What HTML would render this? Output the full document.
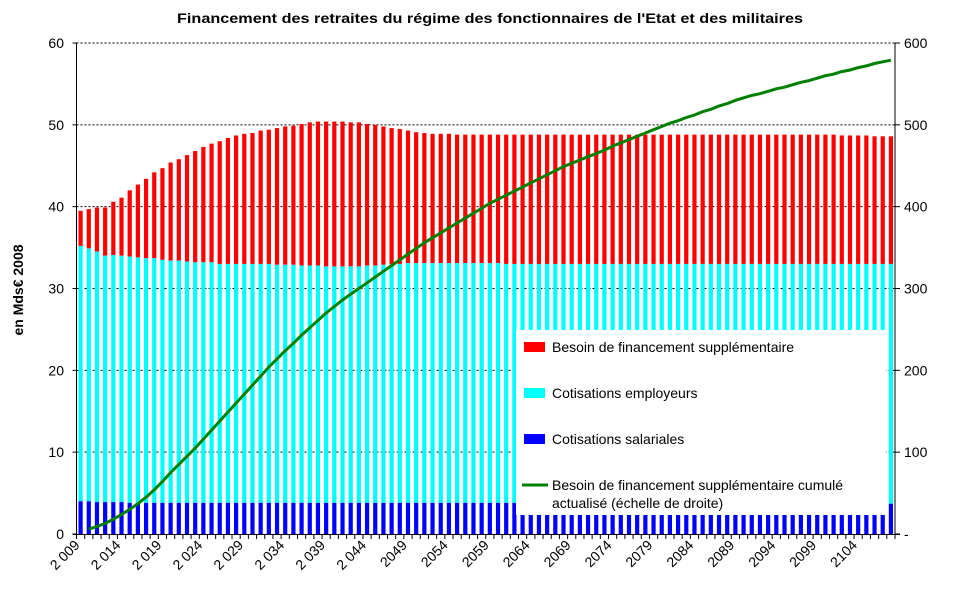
<!DOCTYPE html>
<html><head><meta charset="utf-8"><style>
body{margin:0;background:#fff;}
svg{display:block;font-family:"Liberation Sans",Arial,sans-serif;}
</style></head><body>
<svg id="chart" width="970" height="603" xmlns="http://www.w3.org/2000/svg">
<text x="490" y="23" text-anchor="middle" font-size="14" font-weight="bold" textLength="626" lengthAdjust="spacingAndGlyphs">Financement des retraites du régime des fonctionnaires de l'Etat et des militaires</text>
<text transform="translate(23,290) rotate(-90)" text-anchor="middle" font-size="14" font-weight="bold">en Mds€ 2008</text>
<g id="grid"></g><g id="bars"></g><g id="legend-box"></g><g id="line"></g><g id="axes"></g>
</svg>
<script>
const years = [];
for (let y = 2009; y <= 2108; y++) years.push(y);
const totalNeed = [39.5,39.7,39.9,39.9,40.6,41.1,42.0,42.7,43.4,44.2,44.7,45.4,45.8,46.3,46.8,47.3,47.7,48.0,48.4,48.7,48.9,49.0,49.3,49.4,49.6,49.8,49.9,50.1,50.3,50.4,50.4,50.4,50.4,50.3,50.3,50.1,50.0,49.8,49.6,49.5,49.3,49.1,49.0,48.9,48.9,48.9,48.8,48.8,48.8,48.8,48.8,48.8,48.8,48.8,48.8,48.8,48.8,48.8,48.8,48.8,48.8,48.8,48.8,48.8,48.8,48.8,48.8,48.8,48.8,48.8,48.8,48.8,48.8,48.8,48.8,48.8,48.8,48.8,48.8,48.8,48.8,48.8,48.8,48.8,48.8,48.8,48.8,48.8,48.8,48.8,48.8,48.8,48.8,48.7,48.7,48.7,48.7,48.6,48.6,48.6];
const employerTop = [35.2,34.9,34.5,34.0,34.1,34.0,33.9,33.8,33.7,33.7,33.5,33.4,33.4,33.3,33.2,33.2,33.2,33.0,33.0,33.0,33.0,33.0,33.0,33.0,32.9,32.9,32.9,32.8,32.8,32.8,32.7,32.7,32.7,32.7,32.7,32.8,32.8,32.9,33.0,33.0,33.1,33.1,33.1,33.1,33.1,33.1,33.1,33.1,33.1,33.1,33.1,33.1,33.0,33.0,33.0,33.0,33.0,33.0,33.0,33.0,33.0,33.0,33.0,33.0,33.0,33.0,33.0,33.0,33.0,33.0,33.0,33.0,33.0,33.0,33.0,33.0,33.0,33.0,33.0,33.0,33.0,33.0,33.0,33.0,33.0,33.0,33.0,33.0,33.0,33.0,33.0,33.0,33.0,33.0,33.0,33.0,33.0,33.0,33.0,33.0];
const employee = [4.0,4.0,3.9,3.9,3.9,3.9,3.8,3.8,3.8,3.8,3.8,3.8,3.8,3.8,3.8,3.8,3.8,3.8,3.8,3.8,3.8,3.8,3.8,3.8,3.8,3.8,3.8,3.8,3.8,3.8,3.8,3.8,3.8,3.8,3.8,3.8,3.8,3.8,3.8,3.8,3.8,3.8,3.8,3.8,3.8,3.8,3.8,3.8,3.8,3.8,3.8,3.8,3.8,3.8,3.7,3.7,3.7,3.7,3.7,3.7,3.7,3.7,3.7,3.7,3.7,3.7,3.7,3.7,3.7,3.7,3.7,3.7,3.7,3.7,3.7,3.7,3.7,3.7,3.7,3.7,3.7,3.7,3.7,3.7,3.7,3.7,3.7,3.7,3.7,3.7,3.7,3.7,3.7,3.7,3.7,3.7,3.7,3.7,3.7,3.7];
const cumYears = [];
for (let y = 2010; y <= 2108; y++) cumYears.push(y);
const cumNeed = [6,9,13,18,24,30,37,45,54,64,75,85,95,105,116,127,138,149,160,171,182,193,204,214,224,233,243,252,261,270,278,286,293,300,307,314,321,328,335,342,349,356,362,368,374,380,386,392,398,404,409,414,419,424,429,434,439,444,449,453,457,461,465,469,474,478,482,486,490,494,498,502,505,509,512,516,519,523,526,530,533,536,538,541,544,546,549,552,554,557,560,562,565,567,570,572,575,577,579];
const leftTicks = [0,10,20,30,40,50,60];
const rightTicks = ["-","100","200","300","400","500","600"];

const NS = "http://www.w3.org/2000/svg";
const X0 = 76.5, X1 = 895, Y0 = 534, Y1 = 43;
const n = years.length, step = (X1 - X0) / n;
const xOf = i => X0 + step * (i + 0.5);
const yL = v => Y0 - (v / 60) * (Y0 - Y1);
const yR = v => Y0 - (v / 600) * (Y0 - Y1);
function mk(tag, attrs, parent) {
  const e = document.createElementNS(NS, tag);
  for (const k in attrs) e.setAttribute(k, attrs[k]);
  parent.appendChild(e);
  return e;
}
const grid = document.getElementById('grid'), bars = document.getElementById('bars'),
      lg = document.getElementById('legend-box'), ln = document.getElementById('line'), ax = document.getElementById('axes');
leftTicks.forEach((t) => {
  if (t === 0) return;
  const g = mk('line', {x1: X0, x2: X1, y1: yL(t), y2: yL(t), stroke: '#000', 'stroke-dasharray': '2,2', 'stroke-width': 1}, grid);
  
  
});
const bw = 4.2;
years.forEach((yr, i) => {
  const x = xOf(i) - bw / 2;
  const r = mk('rect', {x: x, y: yL(totalNeed[i]), width: bw, height: yL(employerTop[i]) - yL(totalNeed[i]), fill: '#ff0000'}, bars);
  
  
  const c = mk('rect', {x: x, y: yL(employerTop[i]), width: bw, height: yL(employee[i]) - yL(employerTop[i]), fill: '#00ffff'}, bars);
  
  
  const b = mk('rect', {x: x, y: yL(employee[i]), width: bw, height: Y0 - yL(employee[i]), fill: '#0000ff'}, bars);
  
  
});
const box = mk('rect', {x: 516, y: 330, width: 370, height: 185, fill: '#fff'}, lg);


const items = [['#ff0000', 'Besoin de financement supplémentaire', 347], ['#00ffff', 'Cotisations employeurs', 393], ['#0000ff', 'Cotisations salariales', 439]];
items.forEach(([col, txt, y]) => {
  const s = mk('rect', {x: 524, y: y - 5, width: 21, height: 10, fill: col}, lg);
  
  
  const t = mk('text', {x: 552, y: y + 5, 'font-size': 14}, lg);
  t.textContent = txt;
  
  
});
const gl = mk('line', {x1: 522, x2: 548, y1: 485, y2: 485, stroke: '#008000', 'stroke-width': 3}, lg);


['Besoin de financement supplémentaire cumulé', 'actualisé (échelle de droite)'].forEach((txt, k) => {
  const t = mk('text', {x: 552, y: 490 + k * 18, 'font-size': 14}, lg);
  t.textContent = txt;
  
  
});
const pts = cumYears.map((yr, k) => xOf(years.indexOf(yr)).toFixed(1) + ',' + yR(cumNeed[k]).toFixed(1)).join(' ');
const pl = mk('polyline', {points: pts, fill: 'none', stroke: '#008000', 'stroke-width': 3, 'stroke-linejoin': 'round'}, ln);


[X0, X1].forEach((a) => {
  const l = mk('line', {x1: a, x2: a, y1: Y1, y2: Y0, stroke: '#000'}, ax);
  
  
});
const xb = mk('line', {x1: X0 - 4, x2: X1 + 5, y1: Y0 + 0.5, y2: Y0 + 0.5, stroke: '#000'}, ax);


leftTicks.forEach((t) => {
  mk('line', {x1: X0 - 4, x2: X0, y1: yL(t), y2: yL(t), stroke: '#000'}, ax);
  const tx = mk('text', {x: 64, y: yL(t) + 5, 'font-size': 14, 'text-anchor': 'end'}, ax);
  tx.textContent = t;
  
  
});
rightTicks.forEach((t, k) => {
  const y = yL(k * 10);
  mk('line', {x1: X1, x2: X1 + 5, y1: y, y2: y, stroke: '#000'}, ax);
  const tx = mk('text', {x: 904, y: y + 5, 'font-size': 14}, ax);
  tx.textContent = t;
  
  
});
for (let i = 0; i <= n; i++) {
  const x = X0 + step * i;
  mk('line', {x1: x, x2: x, y1: Y0, y2: Y0 + 5, stroke: '#000'}, ax);
}
years.forEach((yr, i) => {
  if ((yr - 2009) % 5 !== 0) return;
  const label = yr <= 2044 ? String(yr).slice(0, 1) + ' ' + String(yr).slice(1) : String(yr);
  const x = X0 + step * i + 4, y = Y0 + 12;
  const tx = mk('text', {x: x, y: y, 'font-size': 14, 'text-anchor': 'end', transform: 'rotate(-45 ' + x + ' ' + y + ')'}, ax);
  tx.textContent = label;
  
  
});
</script>
</body></html>
